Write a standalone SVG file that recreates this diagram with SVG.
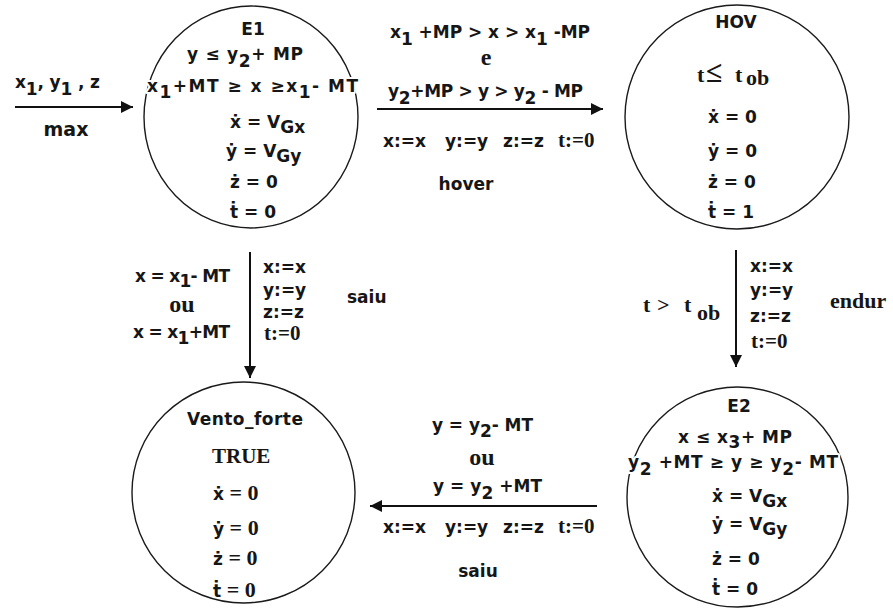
<svg xmlns="http://www.w3.org/2000/svg" width="893" height="610" viewBox="0 0 893 610">
<style>
text{font-family:"DejaVu Sans","Liberation Sans",sans-serif;font-weight:bold;font-size:17px;fill:#161616}
.s{font-family:"Liberation Serif","DejaVu Serif",serif;font-size:21px}
.big{font-size:24px}
.halo{stroke:#fff;stroke-width:4px;paint-order:stroke;stroke-linejoin:round}
.node{fill:none;stroke:#1a1a1a;stroke-width:1.4}
.edge{fill:none;stroke:#111;stroke-width:2}
</style>
<defs>
<marker id="ah" viewBox="0 0 12 12" refX="12" refY="6" markerWidth="12" markerHeight="12" markerUnits="userSpaceOnUse" orient="auto">
<path d="M0,0 L12,6 L0,12 z" fill="#111"/>
</marker>
</defs>
<rect width="893" height="610" fill="#fff"/>

<g id="connectors">
<line class="edge" x1="15" y1="107" x2="133" y2="107" marker-end="url(#ah)"/>
<line class="edge" x1="377" y1="109" x2="603" y2="109" marker-end="url(#ah)"/>
<line class="edge" x1="250" y1="252" x2="250" y2="378" marker-end="url(#ah)"/>
<line class="edge" x1="736" y1="250" x2="736" y2="367" marker-end="url(#ah)"/>
<line class="edge" x1="597" y1="506" x2="370" y2="506" marker-end="url(#ah)"/>
</g>

<g id="edge-labels">
<text x="15" y="88" textLength="85">x<tspan dy="7">1</tspan><tspan dy="-7">, y</tspan><tspan dy="7">1</tspan><tspan dy="-7"> , z</tspan></text>
<text x="66" y="136" text-anchor="middle" style="font-size:19px">max</text>

<text x="390" y="38" textLength="200">x<tspan dy="7">1</tspan><tspan dy="-7"> +MP &gt; x &gt; x</tspan><tspan dy="7">1</tspan><tspan dy="-7"> -MP</tspan></text>
<text class="s big" x="486" y="65" text-anchor="middle">e</text>
<text x="388" y="97" textLength="195">y<tspan dy="7">2</tspan><tspan dy="-7">+MP &gt; y &gt; y</tspan><tspan dy="7">2</tspan><tspan dy="-7"> - MP</tspan></text>
<text y="147"><tspan x="383">x:=x</tspan><tspan x="445">y:=y</tspan><tspan x="503">z:=z</tspan></text>
<text class="s" x="558" y="147">t:=0</text>
<text x="466" y="190" text-anchor="middle">hover</text>

<text x="135" y="282" textLength="95">x = x<tspan dy="5">1</tspan><tspan dy="-5">- MT</tspan></text>
<text class="s big" x="182" y="312" text-anchor="middle">ou</text>
<text x="133" y="338" textLength="97">x = x<tspan dy="6">1</tspan><tspan dy="-6">+MT</tspan></text>
<text x="263" y="273">x:=x</text>
<text x="263" y="296">y:=y</text>
<text x="263" y="318">z:=z</text>
<text class="s" x="264" y="340">t:=0</text>
<text x="347" y="303">saiu</text>

<text class="s" y="312" style="font-size:22px"><tspan x="643">t</tspan><tspan x="657">&gt;</tspan><tspan x="684">t</tspan><tspan x="697" dy="8">ob</tspan></text>
<text x="750" y="272">x:=x</text>
<text x="750" y="296">y:=y</text>
<text x="750" y="322">z:=z</text>
<text class="s" x="751" y="348">t:=0</text>
<text class="s" x="830" y="308" style="font-size:22px">endur</text>

<text x="432" y="431" textLength="101">y = y<tspan dy="6">2</tspan><tspan dy="-6">- MT</tspan></text>
<text class="s big" x="482" y="465" text-anchor="middle">ou</text>
<text x="433" y="492" textLength="109">y = y<tspan dy="7">2</tspan><tspan dy="-7"> +MT</tspan></text>
<text y="533"><tspan x="383">x:=x</tspan><tspan x="445">y:=y</tspan><tspan x="503">z:=z</tspan></text>
<text class="s" x="558" y="533">t:=0</text>
<text x="478" y="577" text-anchor="middle">saiu</text>
</g>

<g id="E1">
<ellipse class="node" cx="251" cy="117" rx="107" ry="111"/>
<text x="253" y="35" text-anchor="middle">E1</text>
<text x="187" y="60" textLength="116">y ≤ y<tspan dy="7">2</tspan><tspan dy="-7">+ MP</tspan></text>
<text class="halo" x="147" y="92" textLength="211">x<tspan dy="6">1</tspan><tspan dy="-6">+MT ≥ x ≥x</tspan><tspan dy="6">1</tspan><tspan dy="-6">- MT</tspan></text>
<text x="230" y="128">ẋ = V<tspan dy="5">Gx</tspan></text>
<text x="226" y="157">ẏ = V<tspan dy="5">Gy</tspan></text>
<text x="230" y="188">ż = 0</text>
<text x="230" y="218">ṫ = 0</text>
</g>

<g id="HOV">
<ellipse class="node" cx="737" cy="117" rx="112" ry="112"/>
<text x="736" y="28" text-anchor="middle">HOV</text>
<text class="s" y="82" style="font-size:22px"><tspan x="697">t</tspan><tspan x="706" style="font-size:30px">≤</tspan><tspan x="735">t</tspan><tspan x="746" dy="3">ob</tspan></text>
<text x="708" y="123">ẋ = 0</text>
<text x="708" y="157">ẏ = 0</text>
<text x="708" y="188">ż = 0</text>
<text x="708" y="218">ṫ = 1</text>
</g>

<g id="E2">
<ellipse class="node" cx="737.5" cy="497" rx="110.5" ry="110"/>
<text x="739" y="412" text-anchor="middle">E2</text>
<text x="678" y="443" textLength="114">x ≤ x<tspan dy="5">3</tspan><tspan dy="-5">+ MP</tspan></text>
<text class="halo" x="628" y="468" textLength="210">y<tspan dy="7">2</tspan><tspan dy="-7"> +MT ≥ y ≥ y</tspan><tspan dy="7">2</tspan><tspan dy="-7">- MT</tspan></text>
<text x="712" y="502">ẋ = V<tspan dy="5">Gx</tspan></text>
<text x="712" y="530">ẏ = V<tspan dy="5">Gy</tspan></text>
<text x="712" y="565">ż = 0</text>
<text x="712" y="595">ṫ = 0</text>
</g>

<g id="Vento_forte">
<ellipse class="node" cx="243.5" cy="492.5" rx="111.5" ry="110.5"/>
<text x="245" y="425" text-anchor="middle" textLength="116">Vento_forte</text>
<text class="s" x="212" y="463">TRUE</text>
<text x="213" y="500">ẋ<tspan class="s" style="font-size:22px"> = 0</tspan></text>
<text x="213" y="535">ẏ<tspan class="s" style="font-size:22px"> = 0</tspan></text>
<text x="213" y="565">ż<tspan class="s" style="font-size:22px"> = 0</tspan></text>
<text x="213" y="597">ṫ<tspan class="s" style="font-size:22px"> = 0</tspan></text>
</g>
</svg>
